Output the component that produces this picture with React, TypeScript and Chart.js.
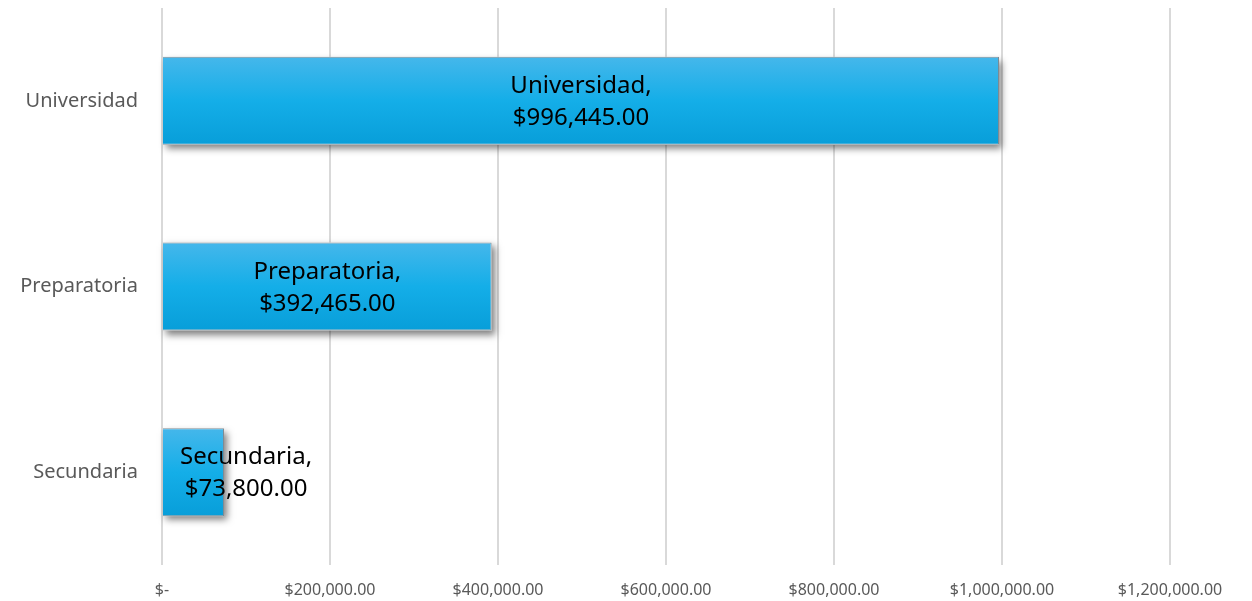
import React, { useEffect, useRef } from "react";
import { Chart, registerables } from "chart.js";

Chart.register(...registerables);

const categories = ["Universidad", "Preparatoria", "Secundaria"];
const values = [996445, 392465, 73800];
const valueLabels = ["$996,445.00", "$392,465.00", "$73,800.00"];
const xTickLabels = [
  "$-",
  "$200,000.00",
  "$400,000.00",
  "$600,000.00",
  "$800,000.00",
  "$1,000,000.00",
  "$1,200,000.00",
];

const FONT = "'Noto Sans', 'Open Sans', sans-serif";

const gradientPlugin = {
  id: "barGradient",
  beforeDatasetsDraw(chart: any) {
    const ctx = chart.ctx;
    const meta = chart.getDatasetMeta(0);
    meta.data.forEach((el: any) => {
      const top = el.y - el.height / 2;
      const bottom = el.y + el.height / 2;
      const g = ctx.createLinearGradient(0, top, 0, bottom);
      g.addColorStop(0, "#45b7eb");
      g.addColorStop(0.5, "#14aee8");
      g.addColorStop(1, "#089ed9");
      el.options = { ...el.options, backgroundColor: g };
    });
  },
  beforeDatasetDraw(chart: any) {
    const ctx = chart.ctx;
    const meta = chart.getDatasetMeta(0);
    ctx.save();
    ctx.shadowColor = "rgba(0,0,0,0.5)";
    ctx.shadowBlur = 7;
    ctx.shadowOffsetX = 3;
    ctx.shadowOffsetY = 4;
    ctx.fillStyle = "#ffffff";
    meta.data.forEach((el: any) => {
      const left = Math.min(el.base, el.x);
      const w = Math.abs(el.x - el.base);
      ctx.fillRect(left, el.y - el.height / 2, w, el.height);
    });
    ctx.restore();
  },
};

const labelPlugin = {
  id: "barLabels",
  afterDatasetsDraw(chart: any) {
    const ctx = chart.ctx;
    const meta = chart.getDatasetMeta(0);
    ctx.save();
    ctx.font = `24px ${FONT}`;
    ctx.fillStyle = "#000000";
    ctx.textAlign = "center";
    ctx.textBaseline = "alphabetic";
    meta.data.forEach((el: any, i: number) => {
      const l1 = categories[i] + ",";
      const l2 = valueLabels[i];
      const w = Math.max(ctx.measureText(l1).width, ctx.measureText(l2).width);
      const base = el.base;
      let cx = (base + el.x) / 2;
      cx = Math.max(cx, base + 17 + w / 2);
      ctx.fillText(l1, cx, el.y - 8);
      ctx.fillText(l2, cx, el.y + 24);
    });
    ctx.restore();
  },
};

export default function App() {
  const ref = useRef<HTMLCanvasElement | null>(null);
  useEffect(() => {
    if (!ref.current) return;
    const chart = new Chart(ref.current, {
      type: "bar",
      data: {
        labels: categories,
        datasets: [
          {
            data: values,
            backgroundColor: "#14aee8",
            borderColor: "rgba(110,125,135,0.9)",
            borderWidth: 1,
            barPercentage: 0.474,
            categoryPercentage: 1,
          },
        ],
      },
      options: {
        indexAxis: "y",
        animation: false,
        responsive: false,
        maintainAspectRatio: false,
        layout: { padding: { top: 8, right: 82, bottom: 0, left: 0 } },
        plugins: {
          legend: { display: false },
          tooltip: { enabled: false },
        },
        scales: {
          x: {
            min: 0,
            max: 1200000,
            ticks: {
              stepSize: 200000,
              color: "#595959",
              font: { family: FONT, size: 16 },
              padding: 16,
              maxRotation: 0,
              callback: (_v: any, i: number) => xTickLabels[i],
            },
            grid: { color: "#d9d9d9", lineWidth: 2, drawTicks: false },
            border: { display: false },
            afterFit: (scale: any) => {
              scale.height = 36;
              scale.paddingTop = 0;
              scale.paddingBottom = 0;
            },
          },
          y: {
            ticks: {
              color: "#595959",
              font: { family: FONT, size: 20 },
              padding: 24,
            },
            grid: { display: false, drawTicks: false },
            border: { display: false },
            afterFit: (scale: any) => {
              scale.width = 162;
              scale.paddingTop = 0;
              scale.paddingBottom = 0;
            },
          },
        },
      },
      plugins: [gradientPlugin, labelPlugin],
    } as any);
    return () => chart.destroy();
  }, []);
  return (
    <div style={{ position: "fixed", left: 0, top: 0, width: 1252, height: 601, background: "#fff" }}>
      <canvas ref={ref} width={1252} height={601} style={{ display: "block" }} />
    </div>
  );
}
